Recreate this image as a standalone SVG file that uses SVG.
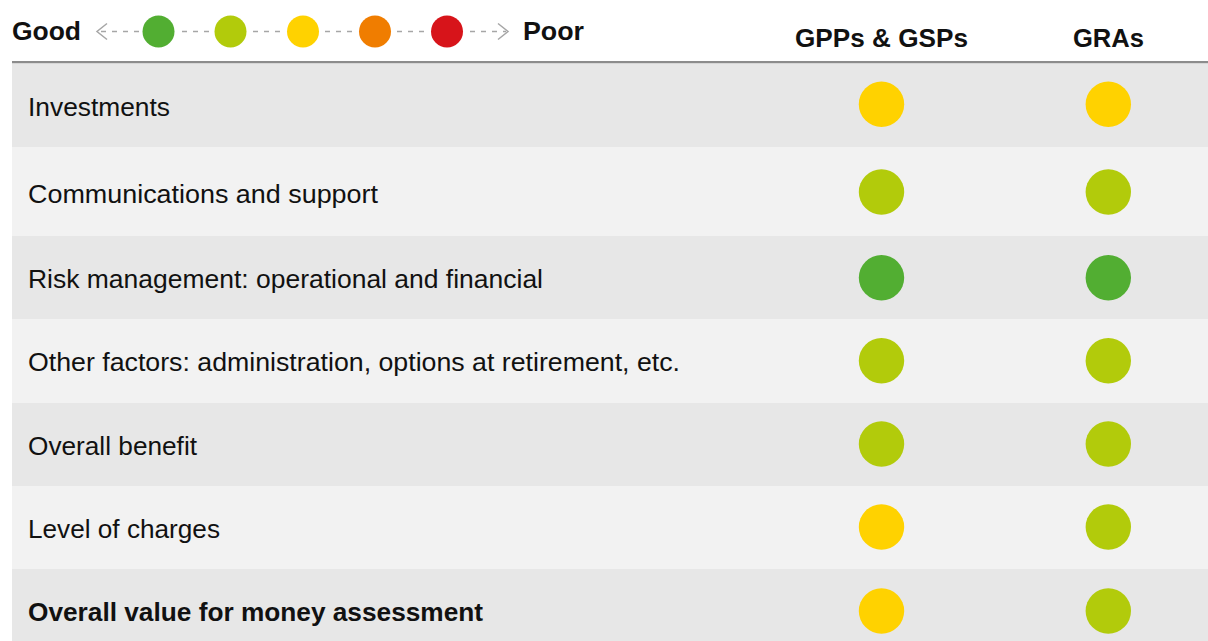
<svg xmlns="http://www.w3.org/2000/svg" width="1208" height="641" viewBox="0 0 1208 641">
<style>
text{font-family:"Liberation Sans",Arial,Helvetica,sans-serif;fill:#111}
.lbl{font-size:25.5px}
.b{font-weight:bold}
.hd{font-size:25px;font-weight:bold}
.ra{fill:#e7e7e7}
.rb{fill:#f2f2f2}
.dash{stroke:#a6a6a6;stroke-width:1.5;stroke-dasharray:5 6;fill:none}
.arr{stroke:#a6a6a6;stroke-width:1.5;fill:none}
.g{fill:#52ae32}.l{fill:#b2cb0b}.y{fill:#ffd200}.o{fill:#f07d00}.r{fill:#d7141a}
</style>
<rect width="1208" height="641" fill="#fff"/>
<g id="legend">
<text x="12" y="39.5" class="hd" textLength="69" lengthAdjust="spacingAndGlyphs">Good</text>
<path class="arr" d="M107,23.5 L97,31.5 L107,39.5"/>
<g id="legend-lines">
<line class="dash" x1="101" y1="31.5" x2="139" y2="31.5"/>
<line class="dash" x1="182" y1="31.5" x2="210" y2="31.5"/>
<line class="dash" x1="253" y1="31.5" x2="283" y2="31.5"/>
<line class="dash" x1="325" y1="31.5" x2="355" y2="31.5"/>
<line class="dash" x1="397" y1="31.5" x2="427" y2="31.5"/>
<line class="dash" x1="470" y1="31.5" x2="506" y2="31.5"/>
</g>
<path class="arr" d="M498,23.5 L508,31.5 L498,39.5"/>
<circle class="g" cx="158.5" cy="31.5" r="16"/>
<circle class="l" cx="230.5" cy="31.5" r="16"/>
<circle class="y" cx="303" cy="31.5" r="16"/>
<circle class="o" cx="375" cy="31.5" r="16"/>
<circle class="r" cx="447" cy="31.5" r="16"/>
<text x="523" y="39.5" class="hd" textLength="61" lengthAdjust="spacingAndGlyphs">Poor</text>
</g>
<g id="header">
<text x="795" y="47" class="hd" textLength="173" lengthAdjust="spacingAndGlyphs">GPPs &amp; GSPs</text>
<text x="1073" y="47" class="hd" textLength="71" lengthAdjust="spacingAndGlyphs">GRAs</text>
<rect x="12" y="61" width="1196" height="2.5" fill="#8c8c8c"/>
</g>
<g id="row1"><rect class="ra" x="12" y="63.5" width="1196" height="83.5"/><text class="lbl" x="28" y="115.5" textLength="142" lengthAdjust="spacingAndGlyphs">Investments</text><circle class="y" cx="881.5" cy="104.3" r="22.7"/><circle class="y" cx="1108.3" cy="104.3" r="22.7"/></g>
<g id="row2"><rect class="rb" x="12" y="147" width="1196" height="89"/><text class="lbl" x="28" y="202.5" textLength="350" lengthAdjust="spacingAndGlyphs">Communications and support</text><circle class="l" cx="881.5" cy="192" r="22.7"/><circle class="l" cx="1108.3" cy="192" r="22.7"/></g>
<g id="row3"><rect class="ra" x="12" y="236" width="1196" height="83"/><text class="lbl" x="28" y="288" textLength="515" lengthAdjust="spacingAndGlyphs">Risk management: operational and financial</text><circle class="g" cx="881.5" cy="277.7" r="22.7"/><circle class="g" cx="1108.3" cy="277.7" r="22.7"/></g>
<g id="row4"><rect class="rb" x="12" y="319" width="1196" height="84"/><text class="lbl" x="28" y="371" textLength="652" lengthAdjust="spacingAndGlyphs">Other factors: administration, options at retirement, etc.</text><circle class="l" cx="881.5" cy="360.7" r="22.7"/><circle class="l" cx="1108.3" cy="360.7" r="22.7"/></g>
<g id="row5"><rect class="ra" x="12" y="403" width="1196" height="83"/><text class="lbl" x="28" y="454.5" textLength="169" lengthAdjust="spacingAndGlyphs">Overall benefit</text><circle class="l" cx="881.5" cy="444" r="22.7"/><circle class="l" cx="1108.3" cy="444" r="22.7"/></g>
<g id="row6"><rect class="rb" x="12" y="486" width="1196" height="83"/><text class="lbl" x="28" y="537.5" textLength="192" lengthAdjust="spacingAndGlyphs">Level of charges</text><circle class="y" cx="881.5" cy="527" r="22.7"/><circle class="l" cx="1108.3" cy="527" r="22.7"/></g>
<g id="row7"><rect class="ra" x="12" y="569" width="1196" height="72"/><text class="lbl b" x="28" y="620.5" textLength="455" lengthAdjust="spacingAndGlyphs">Overall value for money assessment</text><circle class="y" cx="881.5" cy="611" r="22.7"/><circle class="l" cx="1108.3" cy="611" r="22.7"/></g>
</svg>
